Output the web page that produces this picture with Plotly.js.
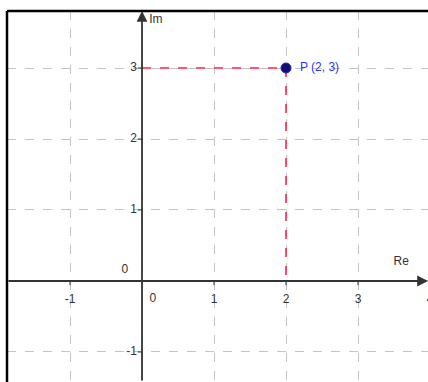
<!DOCTYPE html>
<html>
<head>
<meta charset="utf-8">
<script src="https://cdn.plot.ly/plotly-3.0.1.min.js"></script>
<style>html,body{margin:0;padding:0;background:#fff;}#chart{width:428px;height:382px;}</style>
</head>
<body>
<div id="chart"></div>
<script>
// Data
var pointX = [2];
var pointY = [3];
var pointLabel = ['  P (2, 3)'];
var xTicks = [-1, 1, 2, 3, 4];
var xTickLabels = ['-1', '1', '2', '3', '4'];
var yTicks = [-1, 1, 2, 3];
var yTickLabels = ['-1', '1', '2', '3'];
var xRange = [-1.875, 3.972];
var yRange = [-1.423, 3.803];

var font = {family: 'Liberation Sans, Arial, sans-serif', size: 12, color: '#333333'};

var traces = [];
// projection lines
traces.push({x: [0, pointX[0]], y: [pointY[0], pointY[0]], mode: 'lines', line: {color: '#ff2050', width: 1.6, dash: 'dash'}, hoverinfo: 'skip'});
traces.push({x: [pointX[0], pointX[0]], y: [pointY[0], 0], mode: 'lines', line: {color: '#ff2050', width: 1.6, dash: 'dash'}, hoverinfo: 'skip'});
// x tick labels
traces.push({x: xTicks, y: xTicks.map(function(){return -0.27;}), mode: 'text', text: xTickLabels, textfont: font, hoverinfo: 'skip'});
// y tick labels
traces.push({x: yTicks.map(function(){return -0.07;}), y: yTicks, mode: 'text', text: yTickLabels, textposition: 'middle left', textfont: font, hoverinfo: 'skip'});
// origin labels
traces.push({x: [0.15, -0.24], y: [-0.25, 0.15], mode: 'text', text: ['0', '0'], textfont: font, hoverinfo: 'skip'});
// axis names
traces.push({x: [0.1, 3.6], y: [3.68, 0.27], mode: 'text', text: ['Im', 'Re'], textposition: ['middle right', 'middle center'], textfont: font, hoverinfo: 'skip'});
// point
traces.push({x: pointX, y: pointY, mode: 'markers+text', text: pointLabel, textposition: 'middle right',
  textfont: {family: 'Liberation Sans, Arial, sans-serif', size: 12, color: '#3030ff'},
  marker: {size: 10, color: '#101070', line: {color: '#2020d0', width: 1}}, hoverinfo: 'skip'});

var shapes = [];
// tick marks on y axis
yTicks.forEach(function(v){
  shapes.push({type: 'line', xref: 'x', yref: 'y', x0: -0.06, x1: 0, y0: v, y1: v, line: {color: '#333', width: 1}});
});
xTicks.forEach(function(v){
  shapes.push({type: 'line', xref: 'x', yref: 'y', x0: v, x1: v, y0: 0, y1: -0.06, line: {color: '#333', width: 1}});
});
// frame
shapes.push({type: 'line', xref: 'paper', yref: 'paper', x0: 0, x1: 0, y0: -0.01, y1: 1, line: {color: '#000', width: 2.5}});
shapes.push({type: 'line', xref: 'paper', yref: 'paper', x0: 0, x1: 1.01, y0: 1, y1: 1, line: {color: '#000', width: 2.5}});

var annotations = [
  {x: xRange[1], y: 0, ax: xRange[0], ay: 0, xref: 'x', yref: 'y', axref: 'x', ayref: 'y', text: '', showarrow: true, arrowhead: 2, arrowsize: 1.2, arrowwidth: 1.8, arrowcolor: '#333333'},
  {x: 0, y: yRange[1], ax: 0, ay: yRange[0], xref: 'x', yref: 'y', axref: 'x', ayref: 'y', text: '', showarrow: true, arrowhead: 2, arrowsize: 1.2, arrowwidth: 1.8, arrowcolor: '#333333'}
];

var layout = {
  width: 428, height: 382,
  margin: {l: 7, r: 0, t: 11, b: 0, pad: 0},
  paper_bgcolor: '#ffffff', plot_bgcolor: '#ffffff',
  showlegend: false,
  xaxis: {range: xRange, dtick: 1, tick0: 0, showgrid: true, griddash: 'dash', gridcolor: '#c4c4c4', gridwidth: 1, zeroline: false, showticklabels: false, ticks: '', showline: false, fixedrange: true},
  yaxis: {range: yRange, dtick: 1, tick0: 0, showgrid: true, griddash: 'dash', gridcolor: '#c4c4c4', gridwidth: 1, zeroline: false, showticklabels: false, ticks: '', showline: false, fixedrange: true},
  shapes: shapes,
  annotations: annotations
};

Plotly.newPlot('chart', traces, layout, {displayModeBar: false, staticPlot: true});
</script>
</body>
</html>
